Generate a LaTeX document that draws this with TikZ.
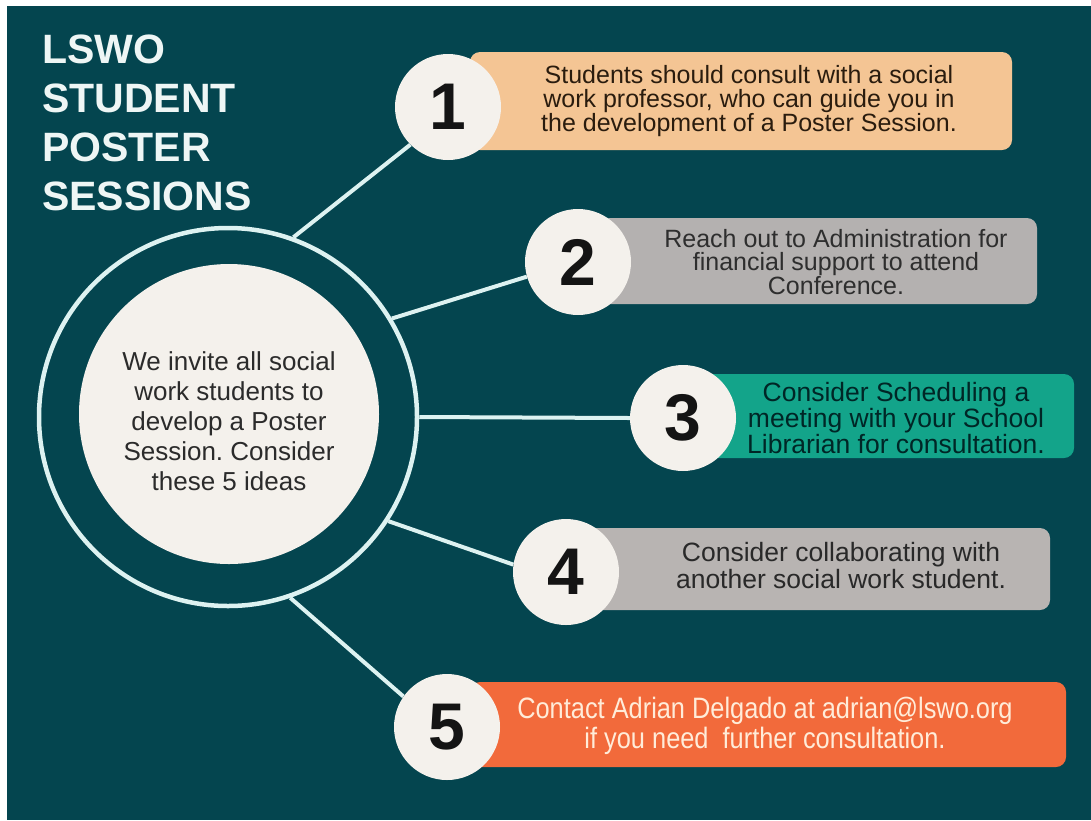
\documentclass[tikz,border=0pt]{standalone}
\usepackage{fontspec}
\setmainfont{Liberation Sans}
\newfontfamily\condfont[FakeStretch=0.86]{Liberation Sans}
\definecolor{bg}{HTML}{04454F}
\definecolor{linec}{HTML}{DDF2F1}
\definecolor{cream}{HTML}{F4F1EC}
\definecolor{peach}{HTML}{F4C594}
\definecolor{grayA}{HTML}{B4B1B0}
\definecolor{grayB}{HTML}{B8B4B2}
\definecolor{tealbox}{HTML}{13A48A}
\definecolor{orangebox}{HTML}{F26A3B}
\definecolor{titlec}{HTML}{EEF6F5}
\pgfdeclarelayer{backlayer}
\pgfdeclarelayer{linelayer}
\pgfsetlayers{backlayer,linelayer,main}
\frenchspacing
\begin{document}
\begin{tikzpicture}[x=1pt,y=-1pt,
  connector/.style={draw=linec, line width=4pt},
  numcircle/.style={circle, fill=cream, minimum size=106pt, inner sep=0pt,
    font=\fontsize{66}{66}\selectfont\bfseries, text=black!92},
  box/.style={rounded corners=10pt, inner sep=0pt},
  boxtext/.style={align=center, inner sep=0pt}
]
\useasboundingbox (0,0) rectangle (1091,820);
\begin{pgfonlayer}{backlayer}
\fill[white] (0,0) rectangle (1091,820);
\fill[bg] (7,6) rectangle (1091,820);
% central circle
\node[circle, draw=linec, line width=4.5pt, minimum size=378pt, inner sep=0pt] (ring) at (228,417) {};
\node[circle, fill=cream, minimum size=300pt, inner sep=0pt] (inner) at (229,414) {};
\end{pgfonlayer}

% title
\node[anchor=north west, inner sep=0pt, align=left, text=titlec,
  font=\fontsize{41}{49}\selectfont\bfseries] (title) at (42,35)
  {LSWO\\STUDENT\\POSTER\\SESSIONS};

\node[align=center, inner sep=0pt, text=black!83, font=\fontsize{26}{30}\selectfont] (intro) at (229,421)
  {We invite all social\\work students to\\develop a Poster\\Session. Consider\\these 5 ideas};

% boxes
\node[box, fill=peach, minimum width=542pt, minimum height=98pt] (b1) at (741,101) {};
\node[box, fill=grayA, minimum width=437pt, minimum height=86pt] (b2) at (818.5,261) {};
\node[box, fill=tealbox, minimum width=374pt, minimum height=84pt] (b3) at (887,416) {};
\node[box, fill=grayB, minimum width=502pt, minimum height=82pt] (b4) at (799,569) {};
\node[box, fill=orangebox, minimum width=596pt, minimum height=85pt] (b5) at (768,724.5) {};

% number circles
\node[numcircle] (n1) at (448,107) {1};
\node[numcircle] (n2) at (578,262) {2};
\node[numcircle] (n3) at (683,418) {3};
\node[numcircle] (n4) at (566,572) {4};
\node[numcircle] (n5) at (447,727) {5};

% connectors (drawn beneath the circles)
\begin{pgfonlayer}{linelayer}
\draw[connector] (ring.70) -- (n1.225);
\draw[connector] (ring.31) -- (n2.196);
\draw[connector] (ring.0) -- (n3.180);
\draw[connector] (ring.-33) -- (n4.172);
\draw[connector] (ring.-71) -- (n5.145);
\end{pgfonlayer}

% box texts
\node[boxtext, text=black!78!brown, font=\fontsize{25}{24}\selectfont] (t1) at (749,101)
  {Students should consult with a social\\work professor, who can guide you in\\the development of a Poster Session.};
\node[boxtext, text=black!82, font=\fontsize{25}{23}\selectfont] (t2) at (836,262)
  {Reach out to Administration for\\financial support to attend\\Conference.};
\node[boxtext, text=black!70!teal, font=\fontsize{26.5}{26}\selectfont] (t3) at (896,418)
  {Consider Scheduling a\\meeting with your School\\Librarian for consultation.};
\node[boxtext, text=black!84, font=\fontsize{26.5}{27}\selectfont] (t4) at (841,566)
  {Consider collaborating with\\another social work student.};
\node[boxtext, text=orange!15!white, font=\condfont\fontsize{29.5}{30}\selectfont] (t5) at (765,726)
  {Contact Adrian Delgado at adrian@lswo.org\\if you need\ \ further consultation.};
\end{tikzpicture}
\end{document}
